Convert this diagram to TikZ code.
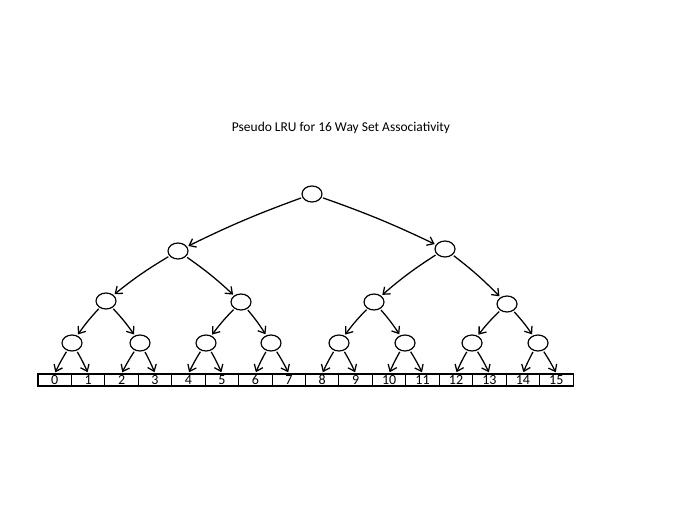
\documentclass[tikz,border=0pt]{standalone}
\usepackage{fontspec}
\setmainfont{Carlito}
\usepackage{tikz}
\usetikzlibrary{shapes.geometric,arrows.meta,positioning,calc}

\begin{document}
\begin{tikzpicture}[
    x=0.75pt, y=-0.75pt,
    bit/.style={shape=ellipse, draw, line width=0.9pt, minimum width=15pt, minimum height=12pt, inner sep=0pt},
    cell/.style={rectangle, draw, line width=0.8pt, minimum width=25.08pt, minimum height=9pt, inner sep=0pt, font=\fontsize{10.5}{10}\selectfont},
    line/.style={draw, line width=0.95pt, -{Straight Barb[length=4.5pt,width=7pt]}, shorten >=1pt, shorten <=1pt}
]
    \useasboundingbox (0,0) rectangle (684,513);

    % title
    \node [font=\fontsize{10.1}{12}\selectfont] (title) at (341,128) {Pseudo LRU for 16 Way Set Associativity};

    % tree bits
    \node [bit] (n1) at (312,194) {};
    \node [bit] (n2) at (178,251) {};
    \node [bit] (n3) at (445,249) {};
    \node [bit] (n4) at (106,301) {};
    \node [bit] (n5) at (241,302) {};
    \node [bit] (n6) at (374,302) {};
    \node [bit] (n7) at (507,304) {};
    \foreach \i/\x in {8/72, 9/140, 10/206, 11/271, 12/339, 13/405, 14/472, 15/538} {
        \node [bit] (n\i) at (\x,343) {};
    }

    % ways
    \foreach \i in {0,...,15} {
        \node [cell] (c\i) at ({38+33.44*\i+16.72},380) {\i};
    }

    % pointers
    \draw [line] (n1) to[bend right=3] (n2);
    \draw [line] (n1) to[bend left=3] (n3);
    \foreach \k in {2,...,7} {
        \pgfmathtruncatemacro{\l}{2*\k}
        \pgfmathtruncatemacro{\r}{2*\k+1}
        \draw [line] (n\k) to[bend right=4] (n\l);
        \draw [line] (n\k) to[bend left=4] (n\r);
    }
    \foreach \k in {8,...,15} {
        \pgfmathtruncatemacro{\l}{2*(\k-8)}
        \pgfmathtruncatemacro{\r}{2*(\k-8)+1}
        \draw [line] (n\k) to[bend right=3] (c\l.north);
        \draw [line] (n\k) to[bend left=3] (c\r.north);
    }
\end{tikzpicture}
\end{document}
